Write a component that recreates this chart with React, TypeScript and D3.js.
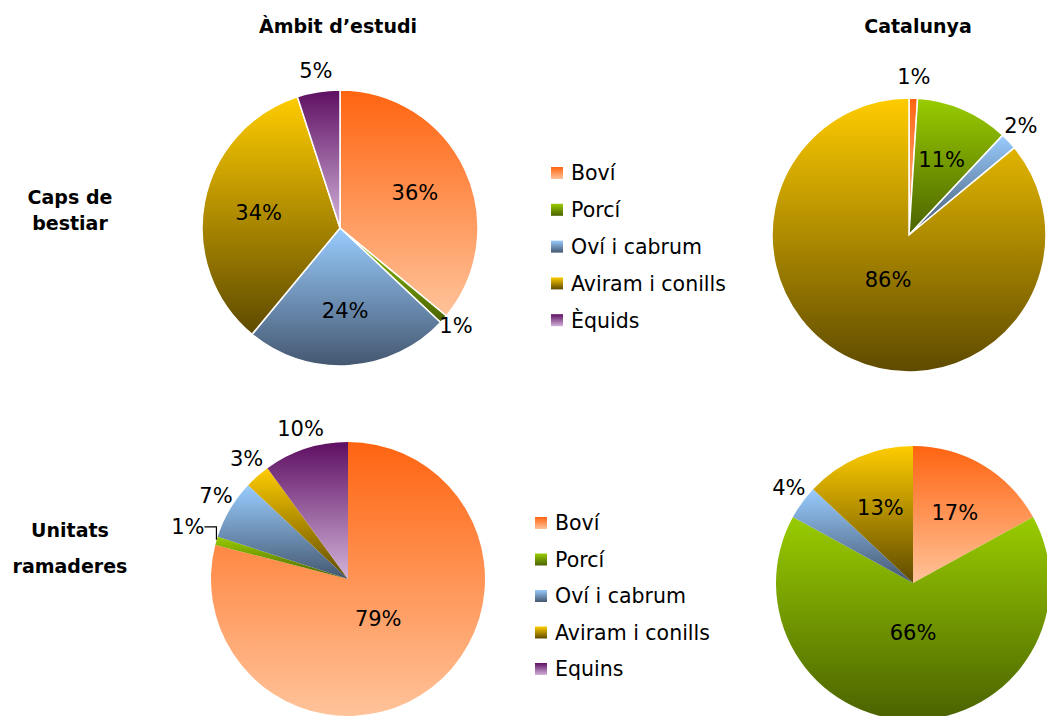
import React from "react";
import * as d3 from "d3";

// ---- data ----
const seriesTop = ["Boví", "Porcí", "Oví i cabrum", "Aviram i conills", "Èquids"];
const seriesBottom = ["Boví", "Porcí", "Oví i cabrum", "Aviram i conills", "Equins"];
const colTitles = ["Àmbit d’estudi", "Catalunya"];
const rowTitles = [["Caps de", "bestiar"], ["Unitats", "ramaderes"]];
const capsAmbit = [36, 1, 24, 34, 5];
const capsCatalunya = [1, 11, 2, 86, 0];
const urAmbit = [79, 1, 7, 3, 10];
const urCatalunya = [17, 66, 4, 13, 0];

// gradient stops (top -> bottom) per series
const gradTop = ["#FF6410", "#99CC00", "#99CCFF", "#FFCC00", "#5E0F62"];
const gradBottom = ["#FFC39A", "#4A6200", "#44576F", "#5E4A00", "#D2B3DA"];

const FONT = "'DejaVu Sans', Verdana, sans-serif";

type PieCfg = { values: number[]; cx: number; cy: number; r: number; stroke: boolean; leader?: number };

const pies: PieCfg[] = [
  { values: capsAmbit, cx: 340, cy: 228, r: 138, stroke: true },
  { values: capsCatalunya, cx: 909, cy: 235, r: 137, stroke: true },
  { values: urAmbit, cx: 348, cy: 579, r: 137, stroke: false, leader: 1 },
  { values: urCatalunya, cx: 913, cy: 583, r: 137, stroke: false },
];

function Pie({ cfg }: { cfg: PieCfg }) {
  const pie = d3.pie<number>().sort(null).value((d) => d);
  const arcs = pie(cfg.values);
  const arc = d3.arc<d3.PieArcDatum<number>>().innerRadius(0).outerRadius(cfg.r);
  const total = d3.sum(cfg.values);
  return (
    <g transform={`translate(${cfg.cx},${cfg.cy})`}>
      {arcs.map((a, i) =>
        a.value > 0 ? (
          <path
            key={i}
            d={arc(a) || ""}
            fill={`url(#grad${i})`}
            stroke={cfg.stroke ? "#fff" : "none"}
            strokeWidth={cfg.stroke ? 1.5 : 0}
          />
        ) : null
      )}
      {arcs.map((a, i) => {
        if (a.value <= 0) return null;
        const pct = Math.round((a.value / total) * 100);
        const mid = (a.startAngle + a.endAngle) / 2;
        const s = Math.sin(mid);
        const c = -Math.cos(mid);
        const label = `${pct}%`;
        if (cfg.leader === i) {
          const px = s * cfg.r;
          const py = c * cfg.r;
          return (
            <g key={"l" + i}>
              <path
                d={`M${px},${py - 1}V${py - 14}H${px - 12}`}
                fill="none"
                stroke="#000"
                strokeWidth={1.2}
              />
              <text x={px - 12} y={py - 14} dy="0.36em" textAnchor="end" fontFamily={FONT} fontSize={21}>
                {label}
              </text>
            </g>
          );
        }
        let k: number;
        let dy = 0;
        if (pct < 11) {
          k = 1.12;
          dy = -5;
        } else if (pct > 50) k = 0.36;
        else k = 0.6;
        return (
          <text
            key={"l" + i}
            x={s * cfg.r * k}
            y={c * cfg.r * k + dy}
            dy="0.36em"
            textAnchor="middle"
            fontFamily={FONT}
            fontSize={21}
          >
            {label}
          </text>
        );
      })}
    </g>
  );
}

function Legend({ items, x, y, step }: { items: string[]; x: number; y: number; step: number }) {
  return (
    <g>
      {items.map((t, i) => (
        <g key={i} transform={`translate(${x},${y + i * step})`}>
          <rect x={0} y={-6} width={12} height={12} fill={`url(#grad${i})`} />
          <text x={20} y={0} dy="0.36em" fontFamily={FONT} fontSize={20.5}>
            {t}
          </text>
        </g>
      ))}
    </g>
  );
}

export default function App() {
  return (
    <svg
      width={1047}
      height={716}
      style={{ position: "absolute", left: 0, top: 0, background: "#fff" }}
    >
      <defs>
        {gradTop.map((c, i) => (
          <linearGradient key={i} id={`grad${i}`} x1="0" y1="0" x2="0" y2="1">
            <stop offset="0" stopColor={c} />
            <stop offset="1" stopColor={gradBottom[i]} />
          </linearGradient>
        ))}
      </defs>
      <rect width={1047} height={716} fill="#fff" />
      <text x={338} y={33} textAnchor="middle" fontFamily={FONT} fontWeight="bold" fontSize={19}>
        {colTitles[0]}
      </text>
      <text x={918} y={33} textAnchor="middle" fontFamily={FONT} fontWeight="bold" fontSize={19}>
        {colTitles[1]}
      </text>
      <text x={70} y={204} textAnchor="middle" fontFamily={FONT} fontWeight="bold" fontSize={19}>
        {rowTitles[0][0]}
      </text>
      <text x={70} y={230} textAnchor="middle" fontFamily={FONT} fontWeight="bold" fontSize={19}>
        {rowTitles[0][1]}
      </text>
      <text x={70} y={537} textAnchor="middle" fontFamily={FONT} fontWeight="bold" fontSize={19}>
        {rowTitles[1][0]}
      </text>
      <text x={70} y={573} textAnchor="middle" fontFamily={FONT} fontWeight="bold" fontSize={19}>
        {rowTitles[1][1]}
      </text>
      {pies.map((p, i) => (
        <Pie key={i} cfg={p} />
      ))}
      <Legend items={seriesTop} x={551} y={173} step={36.8} />
      <Legend items={seriesBottom} x={535} y={523} step={36.5} />
    </svg>
  );
}
